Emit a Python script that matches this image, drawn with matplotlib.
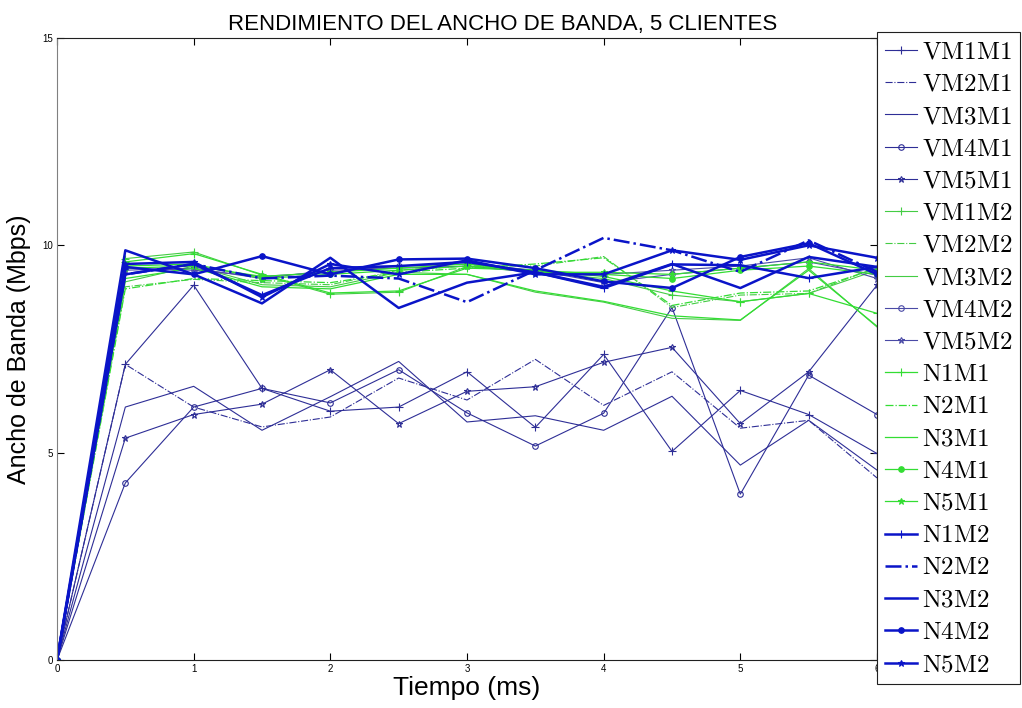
'''Bandwidth performance plot for 5 clients: VM and native runs on two machines.'''

import numpy as np
import matplotlib
matplotlib.use('Agg')
import matplotlib.pyplot as plt

TIME = [0, 0.5, 1, 1.5, 2, 2.5, 3, 3.5, 4, 4.5, 5, 5.5, 6]

# virtual machines, machine 1
VM1M1 = [0, 7.13, 9.04, 6.55, 6.00, 6.10, 6.95, 5.61, 7.37, 5.03, 6.50, 5.92, 4.98]
VM2M1 = [0, 7.13, 6.10, 5.62, 5.86, 6.80, 6.27, 7.25, 6.14, 6.95, 5.59, 5.78, 4.39]
VM3M1 = [0, 6.10, 6.60, 5.54, 6.35, 7.20, 5.74, 5.89, 5.54, 6.36, 4.70, 5.78, 4.58]
VM4M1 = [0, 4.27, 6.10, 6.55, 6.20, 7.00, 5.96, 5.16, 5.95, 8.50, 4.00, 6.87, 5.92]
VM5M1 = [0, 5.35, 5.92, 6.17, 7.00, 5.70, 6.48, 6.59, 7.18, 7.54, 5.70, 6.95, 9.04]

# virtual machines, machine 2
VM1M2 = [0, 9.68, 9.84, 9.28, 8.82, 8.87, 9.49, 9.35, 9.20, 8.80, 8.64, 8.84, 9.40]
VM2M2 = [0, 9.00, 9.18, 9.10, 9.05, 9.40, 9.50, 9.50, 9.73, 8.50, 8.80, 8.84, 9.47]
VM3M2 = [0, 9.12, 9.50, 9.05, 9.00, 9.35, 9.30, 8.87, 8.63, 8.24, 8.19, 9.44, 8.03]
VM4M2 = [0, 9.45, 9.40, 9.25, 9.35, 9.50, 9.55, 9.40, 9.10, 9.30, 9.45, 9.60, 9.28]
VM5M2 = [0, 9.40, 9.45, 9.20, 9.40, 9.45, 9.50, 9.35, 9.30, 9.40, 9.50, 9.70, 9.20]

# native, machine 1
N1M1 = [0, 9.60, 9.80, 9.30, 8.85, 8.90, 9.45, 9.40, 9.25, 8.90, 8.64, 8.84, 8.36]
N2M1 = [0, 8.95, 9.20, 9.15, 9.10, 9.35, 9.45, 9.55, 9.70, 8.55, 8.85, 8.90, 9.45]
N3M1 = [0, 9.20, 9.45, 9.00, 8.95, 9.30, 9.30, 8.90, 8.65, 8.30, 8.20, 9.40, 8.05]
N4M1 = [0, 9.50, 9.55, 9.20, 9.30, 9.40, 9.50, 9.40, 9.30, 9.20, 9.40, 9.50, 9.30]
N5M1 = [0, 9.45, 9.50, 9.25, 9.35, 9.45, 9.55, 9.35, 9.35, 9.30, 9.45, 9.60, 9.40]

# native, machine 2
N1M2 = [0, 9.30, 9.55, 8.80, 9.45, 9.50, 9.60, 9.35, 8.97, 9.54, 9.52, 9.21, 9.48]
N2M2 = [0, 9.30, 9.55, 9.20, 9.27, 9.20, 8.63, 9.40, 10.18, 9.88, 9.36, 10.12, 9.36]
N3M2 = [0, 9.88, 9.30, 8.60, 9.70, 8.49, 9.10, 9.35, 9.00, 9.55, 8.97, 9.72, 9.48]
N4M2 = [0, 9.48, 9.30, 9.74, 9.30, 9.66, 9.68, 9.45, 9.13, 8.97, 9.72, 10.05, 9.30]
N5M2 = [0, 9.55, 9.60, 8.75, 9.55, 9.30, 9.64, 9.30, 9.30, 9.88, 9.65, 10.00, 9.70]

NAMES = ['VM1M1', 'VM2M1', 'VM3M1', 'VM4M1', 'VM5M1',
         'VM1M2', 'VM2M2', 'VM3M2', 'VM4M2', 'VM5M2',
         'N1M1', 'N2M1', 'N3M1', 'N4M1', 'N5M1',
         'N1M2', 'N2M2', 'N3M2', 'N4M2', 'N5M2']
SERIES = [VM1M1, VM2M1, VM3M1, VM4M1, VM5M1,
          VM1M2, VM2M2, VM3M2, VM4M2, VM5M2,
          N1M1, N2M1, N3M1, N4M1, N5M1,
          N1M2, N2M2, N3M2, N4M2, N5M2]

# (color, linestyle, marker, linewidth, filled marker)
STYLES = [('#2e2e96', '-', '+', 0.8, False),
          ('#2e2e96', '-.', None, 0.8, False),
          ('#2e2e96', '-', None, 0.8, False),
          ('#2e2e96', '-', 'o', 0.8, False),
          ('#2e2e96', '-', '*', 0.8, False),
          ('#44cc44', '-', '+', 0.8, False),
          ('#44cc44', '-.', None, 0.8, False),
          ('#44cc44', '-', None, 0.8, False),
          ('#4a4aa6', '-', 'o', 0.8, False),
          ('#4a4aa6', '-', '*', 0.8, False),
          ('#33dd33', '-', '+', 0.9, False),
          ('#33dd33', '-.', None, 0.9, False),
          ('#33dd33', '-', None, 0.9, False),
          ('#33dd33', '-', 'o', 0.9, True),
          ('#33dd33', '-', '*', 0.9, True),
          ('#0a14c8', '-', '+', 1.8, False),
          ('#0a14c8', '-.', None, 1.8, False),
          ('#0a14c8', '-', None, 1.8, False),
          ('#0a14c8', '-', 'o', 1.8, True),
          ('#0a14c8', '-', '*', 1.8, True)]

W, H = 1022, 708

plt.rcParams['mathtext.fontset'] = 'cm'
plt.rcParams['font.family'] = ['Liberation Sans', 'DejaVu Sans']


def plot():
    fig = plt.figure(figsize=(W / 100, H / 100), dpi=100)
    ax = fig.add_axes([57 / W, 1 - 660 / H, (877 - 57) / W, (660 - 38) / H])

    for name, values, (color, ls, marker, lw, filled) in zip(NAMES, SERIES, STYLES):
        msize = {'+': 6, 'o': 4, '*': 5, None: 0}[marker]
        ax.plot(TIME, values, color=color, linestyle=ls, linewidth=lw, marker=marker,
                markersize=msize, markeredgewidth=0.8,
                markerfacecolor=color if filled else 'none',
                label=r'$\mathrm{%s}$' % name)

    ax.set_xlim(0, 6)
    ax.set_ylim(0, 15)
    ax.set_xticks(range(7))
    ax.set_yticks([0, 5, 10, 15])
    ax.tick_params(direction='in', length=5, width=0.8, labelsize=7,
                   top=True, right=True, pad=3)
    ax.spines['left'].set_color('#808080')
    for s in ['top', 'right', 'bottom']:
        ax.spines[s].set_color('#202020')

    fig.text(503 / W, 1 - 30 / H, 'RENDIMIENTO DEL ANCHO DE BANDA, 5 CLIENTES',
             fontsize=16, ha='center', va='baseline')
    ax.set_xlabel('Tiempo (ms)', fontsize=19, labelpad=1)
    ax.set_ylabel('Ancho de Banda (Mbps)', fontsize=18, labelpad=8)

    leg = fig.legend(loc='upper left', bbox_to_anchor=(877 / W, 1 - 32 / H),
                     fontsize=18, frameon=True, fancybox=False, framealpha=1,
                     edgecolor='#202020', handlelength=1.3, handletextpad=0.2,
                     labelspacing=0.33, borderpad=0.3, borderaxespad=0)
    leg.get_frame().set_linewidth(0.8)

    fig.savefig('out.png', dpi=100)


def main():
    plot()


if __name__ == '__main__':
    main()
